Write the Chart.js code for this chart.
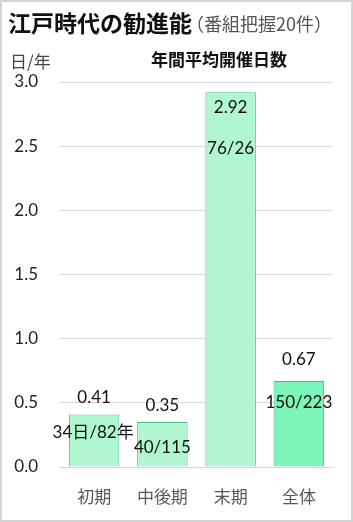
<!DOCTYPE html>
<html>
<head>
<meta charset="utf-8">
<script src="https://cdn.jsdelivr.net/npm/chart.js@4"></script>
<style>
  html, body { margin: 0; padding: 0; background: #fff; }
  #wrap { width: 353px; height: 522px; }
</style>
</head>
<body>
<div id="wrap"><canvas id="kanjinChart" width="353" height="522"></canvas></div>
<script>
// data
const categories = ['初期', '中後期', '末期', '全体'];
const avgDays = [0.41, 0.35, 2.92, 0.67];
const fractionLabels = ['34日/82年', '40/115', '76/26', '150/223'];
const yTicks = [0, 0.5, 1.0, 1.5, 2.0, 2.5, 3.0];

const FONT = "Lato, 'Noto Sans CJK JP', sans-serif";
const JFONT = "'Noto Sans CJK JP', sans-serif";

// label offsets from bar top (px)
const valueOffset = [-17, -17, 15, -22];
const fracOffset = [18, 25, 56, 21];

const barFill = ['#b0f7d1', '#b0f7d1', '#b0f7d1', '#7df5b8'];
const barBorder = ['#55bf88', '#55bf88', '#55bf88', '#4cbb82'];

// Titles, border and bar labels
const textPlugin = {
  id: 'textPlugin',
  afterDraw(chart) {
    const ctx = chart.ctx;
    ctx.save();
    // outer frame
    ctx.strokeStyle = '#d4d4d4';
    ctx.lineWidth = 2;
    ctx.strokeRect(1, 1, chart.width - 2, chart.height - 2);

    ctx.textBaseline = 'middle';
    ctx.textAlign = 'left';
    ctx.fillStyle = '#111';
    ctx.font = "bold 23px " + JFONT;
    ctx.fillText('江戸時代の勧進能', 8, 23);
    const w = ctx.measureText('江戸時代の勧進能').width;
    ctx.fillStyle = '#555';
    ctx.font = "18px " + JFONT;
    ctx.fillText('（番組把握20件）', 8 + w - 6, 24);

    ctx.fillStyle = '#444';
    ctx.font = "17px " + JFONT;
    ctx.fillText('日/年', 10, 62);

    ctx.fillStyle = '#111';
    ctx.font = "bold 17px " + JFONT;
    ctx.textAlign = 'center';
    ctx.fillText('年間平均開催日数', 219, 60);

    // bar labels
    const meta = chart.getDatasetMeta(0);
    ctx.font = "17px " + FONT;
    ctx.fillStyle = '#111';
    meta.data.forEach((bar, i) => {
      ctx.fillText(avgDays[i].toFixed(2), bar.x, bar.y + valueOffset[i]);
      let fx = bar.x;
      if (i === 0) fx = bar.x - 1;
      ctx.fillText(fractionLabels[i], fx, bar.y + fracOffset[i]);
    });
    ctx.restore();
  }
};

const ctx = document.getElementById('kanjinChart').getContext('2d');
const chart = new Chart(ctx, {
  type: 'bar',
  data: {
    labels: categories,
    datasets: [{
      data: avgDays,
      backgroundColor: barFill,
      borderColor: barBorder,
      borderWidth: 1,
      categoryPercentage: 1.0,
      barPercentage: 0.74
    }]
  },
  options: {
    responsive: false,
    animation: false,
    layout: {
      padding: { left: 8, right: 20, top: 82, bottom: 10 }
    },
    plugins: {
      legend: { display: false },
      tooltip: { enabled: false }
    },
    scales: {
      x: {
        grid: { display: false },
        border: { display: false },
        ticks: {
          color: '#595959',
          font: { family: JFONT, size: 17 },
          padding: 11
        },
        afterFit(scale) { scale.height = 45; }
      },
      y: {
        min: 0,
        max: 3,
        afterBuildTicks(scale) {
          scale.ticks = yTicks.map(v => ({ value: v }));
        },
        grid: { color: '#d9d9d9', drawTicks: false },
        border: { display: false },
        ticks: {
          color: '#222',
          font: { family: FONT, size: 17 },
          padding: 22,
          callback: v => v.toFixed(1)
        },
        afterFit(scale) { scale.width = 52; }
      }
    }
  },
  plugins: [textPlugin]
});
</script>
</body>
</html>
